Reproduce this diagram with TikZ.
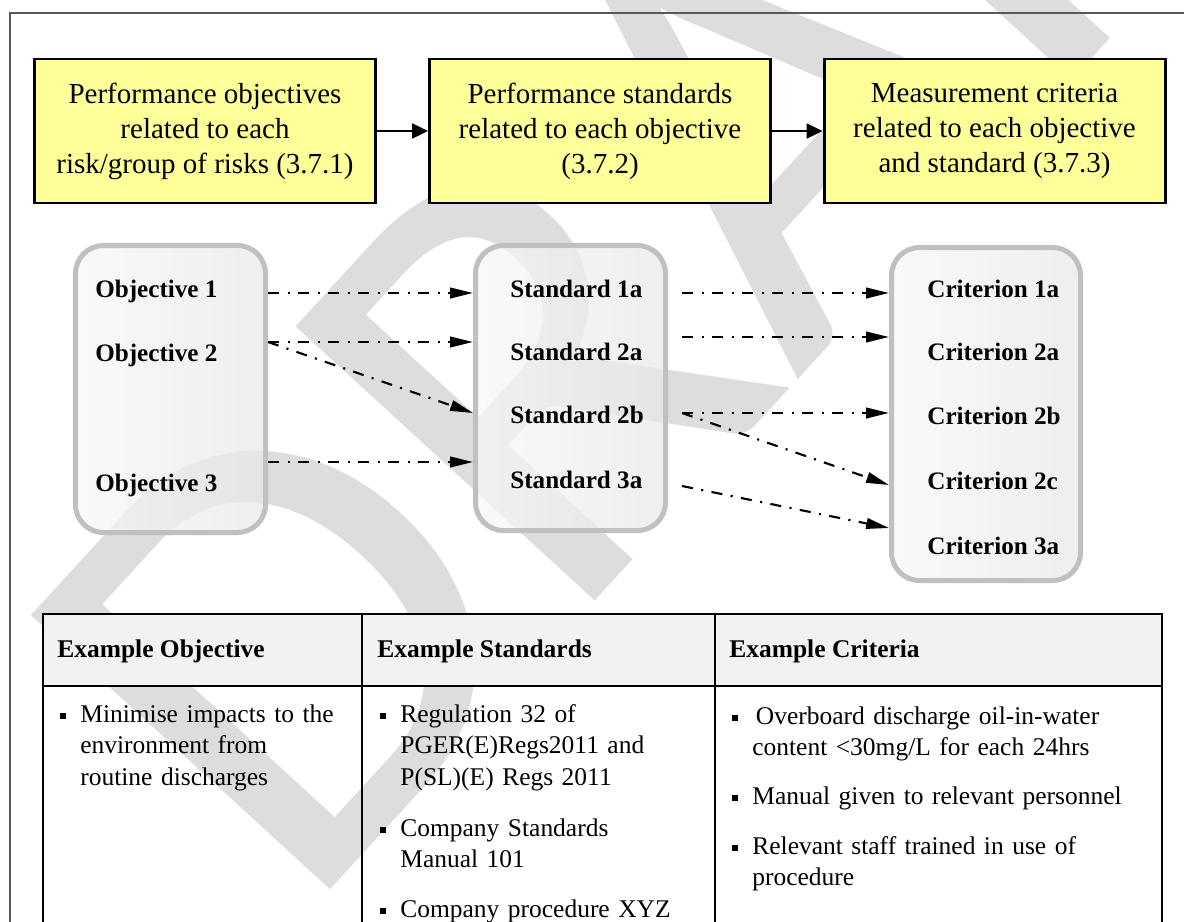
\documentclass[tikz,border=0pt]{standalone}
\usepackage{fontspec}
\setmainfont{Liberation Serif}
\newfontfamily\wmfont{Carlito}
\usepackage{tikz}
\usetikzlibrary{arrows.meta, positioning, calc}
\definecolor{boxyellow}{RGB}{255,255,153}
\definecolor{boxgrey}{RGB}{192,192,192}
\definecolor{headgrey}{RGB}{242,242,242}
\definecolor{draftgrey}{RGB}{221,221,221}
\newcommand{\sqbullet}{\llap{\rule[1.8pt]{3.2pt}{3.2pt}\hspace{8.3pt}}}

\begin{document}
\begin{tikzpicture}[
        goal/.style={rectangle, draw=black, line width=1.7pt, fill=boxyellow,
                     minimum width=6.82cm, minimum height=2.88cm, align=center,
                     font=\fontsize{16.5}{19.9}\selectfont},
        group/.style={rectangle, rounded corners=0.56cm, draw=boxgrey, line width=2.85pt,
                      left color=black!3, right color=black!9, fill opacity=0.75,
                      minimum width=3.8cm},
        entry/.style={anchor=base west, inner sep=0pt,
                      font=\fontsize{14.3}{16}\selectfont\bfseries},
        cellhead/.style={anchor=base west, inner sep=0pt,
                         font=\fontsize{14.5}{16}\selectfont\bfseries},
        cell/.style={anchor=base west, inner sep=0pt, text width=8.2cm, align=left,
                     font=\fontsize{14.5}{18.2}\selectfont},
        headarrow/.style={-{Triangle[length=9pt,width=8.5pt]}, line width=1.1pt},
        maplink/.style={-{Triangle[length=13pt,width=6pt]}, line width=1.2pt,
                        dash pattern=on 6.3pt off 4.8pt on 1.2pt off 4.8pt},
        draft/.style={anchor=base west, inner sep=0pt, rotate=47.5, text=draftgrey,
                      font=\wmfont\fontsize{360}{360}\selectfont}
    ]
        \useasboundingbox (0,0) rectangle (23.68,-18.42);

        % Watermark behind everything
        \node [draft] (draft) at (6.02,-18.44) {DRAFT};

        % Page frame
        \draw [black!65, line width=0.7pt] (0.2,-18.6) -- (0.2,-0.26) -- (23.8,-0.26);

        % Top row: the three steps
        \node [goal] (goal1) at (4.1,-2.62) {Performance objectives\\related to each\\risk/group of risks (3.7.1)};
        \node [goal] (goal2) at (12.0,-2.62) {Performance standards\\related to each objective\\(3.7.2)};
        \node [goal] (goal3) at (19.89,-2.62) {Measurement criteria\\related to each objective\\and standard (3.7.3)};

        \draw [headarrow] (goal1) -- (goal2);
        \draw [headarrow] (goal2) -- (goal3);

        % Rounded groups
        \node [group, minimum height=5.74cm] (objbox) at (3.41,-7.78) {};
        \node [group, minimum height=5.7cm] (stdbox) at (11.41,-7.76) {};
        \node [group, minimum width=3.78cm, minimum height=6.66cm] (critbox) at (19.72,-8.28) {};

        \node [entry] (o1) at (1.9,-5.94) {Objective 1};
        \node [entry] (o2) at (1.9,-7.22) {Objective 2};
        \node [entry] (o3) at (1.9,-9.82) {Objective 3};

        \node [entry] (s1a) at (10.2,-5.94) {Standard 1a};
        \node [entry] (s2a) at (10.2,-7.2) {Standard 2a};
        \node [entry] (s2b) at (10.2,-8.46) {Standard 2b};
        \node [entry] (s3a) at (10.2,-9.76) {Standard 3a};

        \node [entry] (c1a) at (18.54,-5.94) {Criterion 1a};
        \node [entry] (c2a) at (18.54,-7.2) {Criterion 2a};
        \node [entry] (c2b) at (18.54,-8.48) {Criterion 2b};
        \node [entry] (c2c) at (18.54,-9.78) {Criterion 2c};
        \node [entry] (c3a) at (18.54,-11.08) {Criterion 3a};

        % Objectives -> standards
        \draw [maplink] ($(objbox.east |- o1.base)+(0,0.08)$) coordinate (p1) -- (stdbox.west |- p1);
        \draw [maplink] ($(objbox.east |- o2.base)+(0,0.38)$) coordinate (p2) -- (stdbox.west |- p2);
        \draw [maplink] (p2) -- ($(stdbox.west |- s2b.base)+(0,0.2)$);
        \draw [maplink] ($(objbox.east |- o3.base)+(0,0.58)$) coordinate (p3) -- (stdbox.west |- p3);

        % Standards -> criteria
        \draw [maplink] ($(stdbox.east |- s1a.base)+(0.28,0.08)$) coordinate (q1) -- (critbox.west |- q1);
        \draw [maplink] ($(stdbox.east |- s2a.base)+(0.28,0.46)$) coordinate (q2) -- (critbox.west |- q2);
        \draw [maplink] ($(stdbox.east |- s2b.base)+(0.28,0.2)$) coordinate (q3) -- (critbox.west |- q3);
        \draw [maplink] (q3) -- ($(critbox.west |- c2c.base)+(0,0.08)$);
        \draw [maplink] ($(stdbox.east |- s3a.base)+(0.28,0.04)$) -- ($(critbox.west |- c3a.base)+(0,0.52)$);

        % Table of examples
        \fill [headgrey] (0.86,-12.28) rectangle (23.24,-13.72);
        \draw [line width=0.7pt] (0.86,-18.6) -- (0.86,-12.28) -- (23.24,-12.28) -- (23.24,-18.6);
        \draw [line width=0.7pt] (0.86,-13.72) -- (23.24,-13.72);
        \draw [line width=0.7pt] (7.24,-12.28) -- (7.24,-18.6);
        \draw [line width=0.7pt] (14.3,-12.28) -- (14.3,-18.6);

        \node [cellhead] (hobj) at (1.14,-13.14) {Example Objective};
        \node [cellhead] (hstd) at (7.54,-13.14) {Example Standards};
        \node [cellhead] (hcrit) at (14.58,-13.14) {Example Criteria};

        \node [cell] (eobj) at (1.6,-14.44) {\sqbullet Minimise impacts to the\\environment from\\routine discharges};

        \node [cell] (estd1) at (8.0,-14.44) {\sqbullet Regulation 32 of\\PGER(E)Regs2011 and\\P(SL)(E) Regs 2011};
        \node [cell] (estd2) at (8.0,-16.72) {\sqbullet Company Standards\\Manual 101};
        \node [cell] (estd3) at (8.0,-18.34) {\sqbullet Company procedure XYZ};

        \node [cell] (ecrit1) at (15.04,-14.48) {\sqbullet\hspace{2pt}Overboard discharge oil-in-water\\content <30mg/L for each 24hrs};
        \node [cell] (ecrit2) at (15.04,-16.08) {\sqbullet Manual given to relevant personnel};
        \node [cell] (ecrit3) at (15.04,-17.08) {\sqbullet Relevant staff trained in use of\\procedure};
    \end{tikzpicture}
\end{document}
